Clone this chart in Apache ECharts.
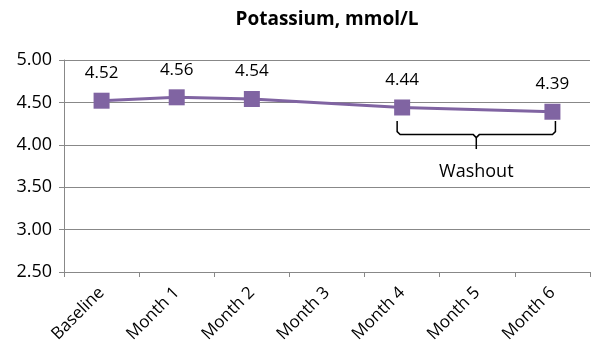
<!DOCTYPE html>
<html>
<head>
<meta charset="utf-8">
<script src="https://cdn.jsdelivr.net/npm/echarts@6/dist/echarts.min.js"></script>
<style>
html, body { margin: 0; padding: 0; background: #fff; }
#main { width: 600px; height: 364px; }
</style>
</head>
<body>
<div id="main"></div>
<script>
var categories = ['Baseline', 'Month 1', 'Month 2', 'Month 3', 'Month 4', 'Month 5', 'Month 6'];
var potassium = [4.52, 4.56, 4.54, null, 4.44, null, 4.39];
var yTicks = { min: 2.5, max: 5.0, step: 0.5 };
var washout = { from: 'Month 4', to: 'Month 6', text: 'Washout' };

var myChart = echarts.init(document.getElementById('main'));
var font = '"Open Sans", "Liberation Sans", sans-serif';

var option = {
    animation: false,
    title: {
        text: 'Potassium, mmol/L',
        left: 322,
        textAlign: 'center',
        top: 5,
        textStyle: { color: '#000', fontSize: 19, fontWeight: 'bold', fontFamily: font }
    },
    grid: { left: 64, right: 10, top: 60, bottom: 92 },
    xAxis: {
        type: 'category',
        data: categories,
        boundaryGap: true,
        axisLine: { lineStyle: { color: '#888' } },
        axisTick: { show: true, length: 5, lineStyle: { color: '#888' } },
        axisLabel: { rotate: 45, color: '#000', fontSize: 17, fontFamily: font, margin: 18 }
    },
    yAxis: {
        type: 'value',
        min: yTicks.min,
        max: yTicks.max,
        interval: yTicks.step,
        axisLine: { show: true, lineStyle: { color: '#888' } },
        axisTick: { show: true, length: 5, lineStyle: { color: '#888' } },
        splitLine: { lineStyle: { color: '#888' } },
        axisLabel: {
            color: '#000', fontSize: 18, fontFamily: font, margin: 12,
            formatter: function (v) { return v.toFixed(2); }
        }
    },
    series: [{
        type: 'line',
        data: potassium,
        connectNulls: true,
        symbol: 'rect',
        symbolSize: 16,
        itemStyle: { color: '#8064A2' },
        lineStyle: { color: '#8064A2', width: 3 },
        label: {
            show: true,
            position: 'top',
            distance: 11,
            color: '#000',
            fontSize: 17,
            fontFamily: font,
            formatter: function (p) { return p.value.toFixed(2); }
        }
    }]
};
myChart.setOption(option);

// brace under the washout points, placed from the axis scale
var x1 = myChart.convertToPixel({ xAxisIndex: 0 }, washout.from) - 5;
var x2 = myChart.convertToPixel({ xAxisIndex: 0 }, washout.to) + 3;
var yTop = myChart.convertToPixel({ yAxisIndex: 0 }, 4.28);
var yMid = myChart.convertToPixel({ yAxisIndex: 0 }, 4.12);
var yTip = myChart.convertToPixel({ yAxisIndex: 0 }, 3.95);
var xc = (x1 + x2) / 2;
myChart.setOption({
    graphic: [
        {
            type: 'polyline',
            shape: { points: [[x1, yTop], [x1, yMid - 3], [x1 + 3, yMid], [xc - 3, yMid], [xc, yMid + 3], [xc + 3, yMid], [x2 - 3, yMid], [x2, yMid - 3], [x2, yTop]] },
            style: { stroke: '#000', lineWidth: 1.5, fill: null }
        },
        {
            type: 'line',
            shape: { x1: xc, y1: yMid + 3, x2: xc, y2: yTip },
            style: { stroke: '#000', lineWidth: 1.5 }
        },
        {
            type: 'text',
            x: xc,
            y: yTip + 23,
            style: { text: washout.text, fill: '#000', fontSize: 18, fontFamily: font, align: 'center', verticalAlign: 'middle' }
        }
    ]
});
</script>
</body>
</html>
